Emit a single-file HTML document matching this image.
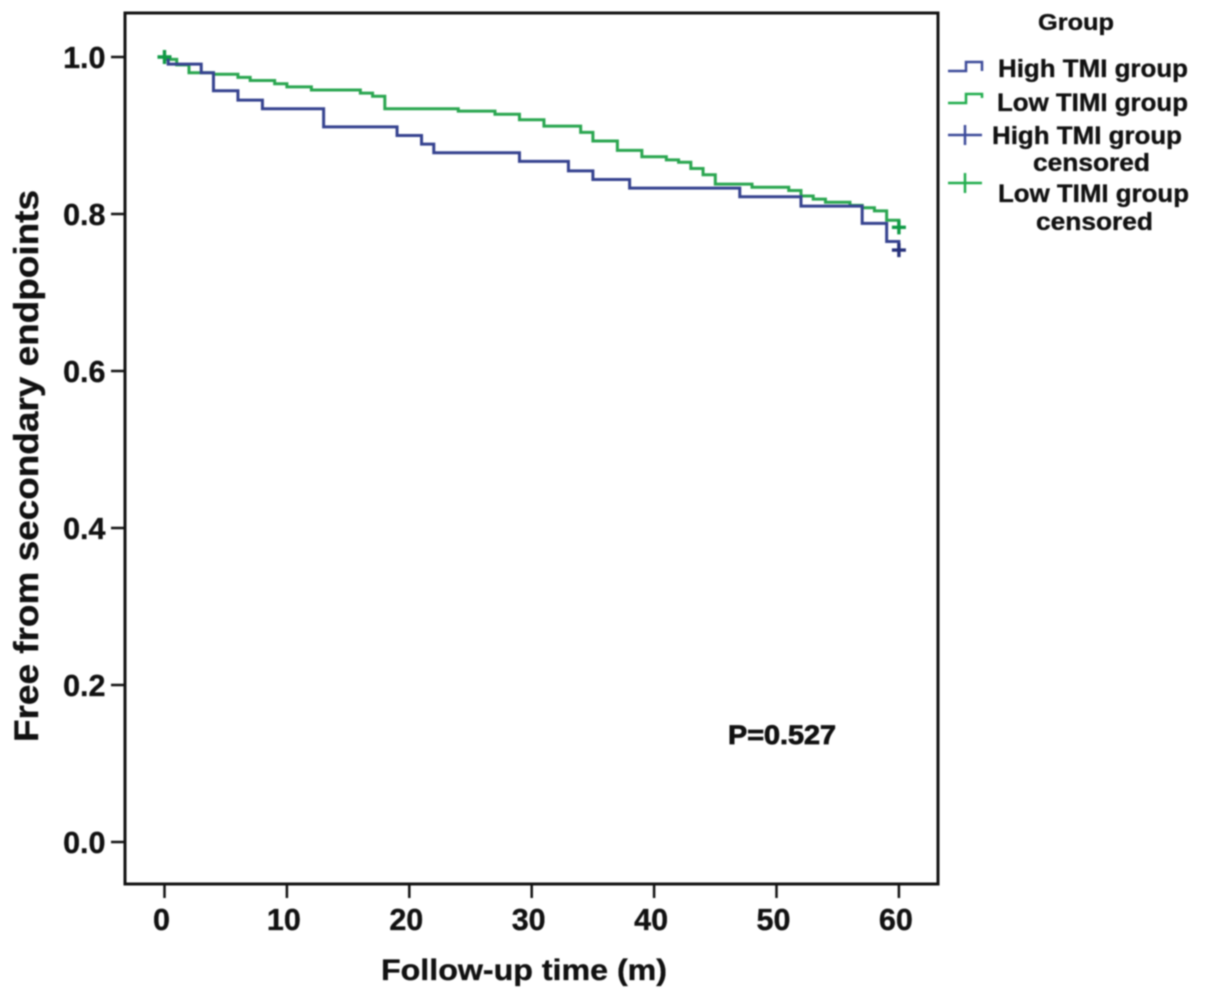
<!DOCTYPE html>
<html>
<head>
<meta charset="utf-8">
<style>
html,body{margin:0;padding:0;background:#fff;}
svg{display:block;filter:blur(0.7px);}
text{font-family:"Liberation Sans",sans-serif;font-weight:bold;fill:#111;stroke:#111;stroke-width:0.35px;}
</style>
</head>
<body>
<svg id="chart" width="1205" height="1000" viewBox="0 0 1205 1000" xmlns="http://www.w3.org/2000/svg">
  <rect x="125" y="13" width="813" height="871" fill="#fff" stroke="#111" stroke-width="3"/>
  <g id="ticks"></g>
  <g id="series"></g>
  <text transform="translate(38,742) rotate(-90)" font-size="34" textLength="552" lengthAdjust="spacingAndGlyphs">Free from secondary endpoints</text>
  <text x="381" y="980" font-size="30" textLength="286" lengthAdjust="spacingAndGlyphs">Follow-up time (m)</text>
  <text x="728" y="744" font-size="27" textLength="108" lengthAdjust="spacingAndGlyphs" style="stroke-width:0.8px">P=0.527</text>
  <g>
    <text x="1038" y="30" font-size="23" textLength="76" lengthAdjust="spacingAndGlyphs">Group</text>
    <path d="M948 71H966V62H982V71" fill="none" stroke="#3c4a9a" stroke-width="2.5"/>
    <text x="998" y="77" font-size="25" textLength="190" lengthAdjust="spacingAndGlyphs">High TMI group</text>
    <path d="M948 103H966V94H982V98" fill="none" stroke="#22ad4e" stroke-width="2.5"/>
    <text x="997" y="111" font-size="25" textLength="191" lengthAdjust="spacingAndGlyphs">Low TIMI group</text>
    <path d="M948 135H982M965 125V145" fill="none" stroke="#3c4a9a" stroke-width="2.5"/>
    <text x="992" y="144" font-size="25" textLength="190" lengthAdjust="spacingAndGlyphs">High TMI group</text>
    <text x="1033" y="171" font-size="25" textLength="117" lengthAdjust="spacingAndGlyphs">censored</text>
    <path d="M948 183H982M965 173V193" fill="none" stroke="#22ad4e" stroke-width="2.5"/>
    <text x="998" y="202" font-size="25" textLength="191" lengthAdjust="spacingAndGlyphs">Low TIMI group</text>
    <text x="1036" y="230" font-size="25" textLength="117" lengthAdjust="spacingAndGlyphs">censored</text>
  </g>
</svg>
<script>
const xTickLabels = [0, 10, 20, 30, 40, 50, 60];
const yTickLabels = [0.0, 0.2, 0.4, 0.6, 0.8, 1.0];
const highTimes = [0, 0.3, 3, 4, 6, 8, 13, 19, 21, 22, 29, 33, 35, 38, 47, 52, 57, 59, 60];
const highSurvival = [1.0, 0.991, 0.98, 0.957, 0.945, 0.934, 0.911, 0.9, 0.889, 0.878, 0.867, 0.855, 0.844, 0.833, 0.822, 0.81, 0.788, 0.765, 0.754];
const lowTimes = [0, 1, 2, 4, 6, 7, 9, 10, 12, 16, 17, 18, 24, 27, 29, 31, 34, 35, 37, 39, 41, 42, 43, 44, 45, 48, 51, 52, 53, 54, 56, 57, 58, 59, 60];
const lowSurvival = [0.997, 0.99, 0.98, 0.978, 0.974, 0.97, 0.966, 0.962, 0.958, 0.954, 0.95, 0.934, 0.931, 0.927, 0.92, 0.912, 0.904, 0.893, 0.881, 0.873, 0.869, 0.866, 0.858, 0.85, 0.838, 0.834, 0.83, 0.823, 0.819, 0.815, 0.811, 0.808, 0.804, 0.792, 0.783];
const NS = 'http://www.w3.org/2000/svg';
function xScale(t){ return 164.5 + t * 12.24; }
function yScale(s){ return 842 - s * 785; }
const ticks = document.getElementById('ticks');
const series = document.getElementById('series');
function make(tag, attrs, parent){
  const el = document.createElementNS(NS, tag);
  for (const k in attrs) el.setAttribute(k, attrs[k]);
  parent.appendChild(el);
  return el;
}
xTickLabels.forEach(function(v){
  const x = xScale(v);
  const line = make('line', {x1:x, x2:x, y1:884, y2:898, stroke:'#111', 'stroke-width':2.5}, ticks);
  
  
  const label = make('text', {x:x - 3, y:930, 'font-size':30.5, 'text-anchor':'middle'}, ticks);
  
  
  label.textContent = String(v);
});
yTickLabels.forEach(function(v){
  const y = yScale(v);
  const line = make('line', {x1:111, x2:125, y1:y, y2:y, stroke:'#111', 'stroke-width':2.5}, ticks);
  
  
  const label = make('text', {x:105.5, y:y + 11, 'font-size':30.5, 'text-anchor':'end'}, ticks);
  
  
  label.textContent = v.toFixed(1);
});
function stepPath(times, values, start){
  let d = 'M' + xScale(times[0]) + ' ' + yScale(start);
  for (let i = 0; i < times.length; i++){
    d += 'H' + xScale(times[i]) + 'V' + yScale(values[i]);
  }
  return d;
}
function censorPath(t, s){
  const x = xScale(t), y = yScale(s);
  return 'M' + (x - 7) + ' ' + y + 'H' + (x + 7) + 'M' + x + ' ' + (y - 7) + 'V' + (y + 7);
}
const lowLine = make('path', {d:stepPath(lowTimes, lowSurvival, 1.0), fill:'none', stroke:'#2aa650', 'stroke-width':3}, series);


const highLine = make('path', {d:stepPath(highTimes, highSurvival, 1.0), fill:'none', stroke:'#35428f', 'stroke-width':3}, series);


const highStart = make('path', {d:censorPath(highTimes[0], highSurvival[0]), fill:'none', stroke:'#25307a', 'stroke-width':3}, series);


const lowStart = make('path', {d:censorPath(lowTimes[0], 1.0), fill:'none', stroke:'#0f9a45', 'stroke-width':3.4}, series);


const highEnd = make('path', {d:censorPath(highTimes[highTimes.length - 1], highSurvival[highSurvival.length - 1]), fill:'none', stroke:'#25307a', 'stroke-width':3.4}, series);


const lowEnd = make('path', {d:censorPath(lowTimes[lowTimes.length - 1], lowSurvival[lowSurvival.length - 1]), fill:'none', stroke:'#0f9a45', 'stroke-width':3.4}, series);


</script>
</body>
</html>
